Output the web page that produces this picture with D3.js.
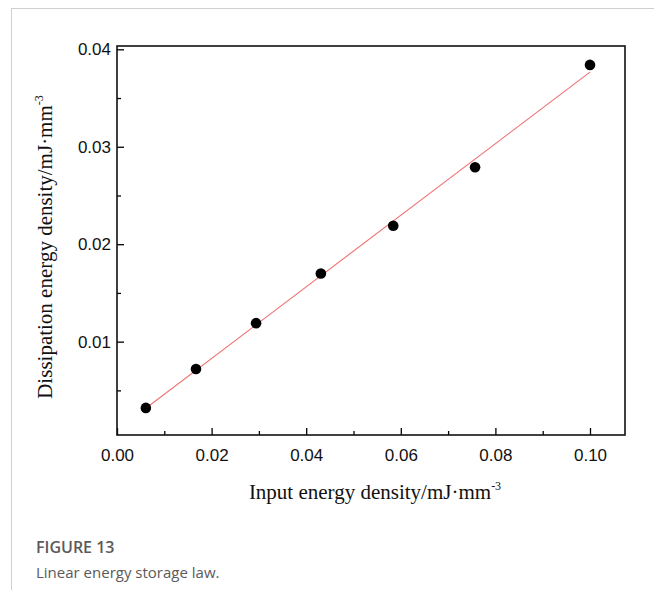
<!DOCTYPE html>
<html>
<head>
<meta charset="utf-8">
<script src="https://cdn.jsdelivr.net/npm/d3@7"></script>
<style>
  html, body { margin: 0; padding: 0; background: #fff; }
  svg { display: block; }
</style>
</head>
<body>
<svg id="chart" width="654" height="590"></svg>
<script>
// Data
const inputEnergy = [0.0061, 0.0167, 0.0294, 0.0431, 0.0584, 0.0757, 0.1000];
const dissipationEnergy = [0.0032, 0.0072, 0.0119, 0.0170, 0.0219, 0.0279, 0.0384];
const xTicks = [0.00, 0.02, 0.04, 0.06, 0.08, 0.10];
const xMinorTicks = [0.01, 0.03, 0.05, 0.07, 0.09];
const yTicks = [0.01, 0.02, 0.03, 0.04];
const yMinorTicks = [0.005, 0.015, 0.025, 0.035];

const svg = d3.select("#chart");
const W = 654, H = 590;

// page frame lines
svg.append("line").attr("x1", 11).attr("x2", W).attr("y1", 8.5).attr("y2", 8.5)
  .attr("stroke", "#cfcfcf").attr("stroke-width", 1);
svg.append("line").attr("x1", 11.5).attr("x2", 11.5).attr("y1", 8).attr("y2", H)
  .attr("stroke", "#cfcfcf").attr("stroke-width", 1);

const plot = { left: 117, right: 625, top: 46, bottom: 435 };

const x = d3.scaleLinear().domain([0, 0.1074]).range([plot.left, plot.right]);
const y = d3.scaleLinear().domain([0.00042, 0.04034]).range([plot.bottom, plot.top]);

const g = svg.append("g");

// Axes (ticks inward)
const xAxis = d3.axisBottom(x).tickValues(xTicks).tickFormat(d3.format(".2f"))
  .tickSizeInner(-7).tickSizeOuter(0).tickPadding(14);
const xAxisMinor = d3.axisBottom(x).tickValues(xMinorTicks).tickFormat("")
  .tickSizeInner(-4).tickSizeOuter(0);
const yAxis = d3.axisLeft(y).tickValues(yTicks).tickFormat(d3.format(".2f"))
  .tickSizeInner(-7).tickSizeOuter(0).tickPadding(6);
const yAxisMinor = d3.axisLeft(y).tickValues(yMinorTicks).tickFormat("")
  .tickSizeInner(-4).tickSizeOuter(0);

function styleAxis(sel) {
  sel.attr("font-size", null).attr("font-family", null);
  sel.select(".domain").remove();
  sel.selectAll(".tick line").attr("stroke", "#000").attr("stroke-width", 1.3);
  sel.selectAll(".tick text").attr("fill", "#111")
    .attr("font-family", "'Liberation Sans', Arial, sans-serif").attr("font-size", 17);
}

g.append("g").attr("transform", `translate(0,${plot.bottom})`).call(xAxis).call(styleAxis);
g.append("g").attr("transform", `translate(0,${plot.bottom})`).call(xAxisMinor).call(styleAxis);
g.append("g").attr("transform", `translate(${plot.left},0)`).call(yAxis).call(styleAxis);
g.append("g").attr("transform", `translate(${plot.left},0)`).call(yAxisMinor).call(styleAxis);

// frame
g.append("rect").attr("x", plot.left).attr("y", plot.top)
  .attr("width", plot.right - plot.left).attr("height", plot.bottom - plot.top)
  .attr("fill", "none").attr("stroke", "#111").attr("stroke-width", 1.6);

// Least-squares fit line across the data range
const n = inputEnergy.length;
const mx = d3.mean(inputEnergy), my = d3.mean(dissipationEnergy);
let sxy = 0, sxx = 0;
for (let i = 0; i < n; i++) {
  sxy += (inputEnergy[i] - mx) * (dissipationEnergy[i] - my);
  sxx += (inputEnergy[i] - mx) ** 2;
}
const slope = sxy / sxx, intercept = my - slope * mx;
const xExt = d3.extent(inputEnergy);
g.append("line")
  .attr("x1", x(xExt[0])).attr("y1", y(intercept + slope * xExt[0]))
  .attr("x2", x(xExt[1])).attr("y2", y(intercept + slope * xExt[1]))
  .attr("stroke", "#f07070").attr("stroke-width", 1.1);

// points
g.selectAll("circle.pt").data(inputEnergy.map((v, i) => [v, dissipationEnergy[i]]))
  .join("circle").attr("class", "pt")
  .attr("cx", d => x(d[0])).attr("cy", d => y(d[1])).attr("r", 5.3)
  .attr("fill", "#000");

// Axis titles
const serif = "'Liberation Serif', 'Times New Roman', serif";
const xt = svg.append("text").attr("x", 375).attr("y", 499)
  .attr("text-anchor", "middle").style("font-family", serif).style("font-size", "21px")
  .attr("fill", "#111");
xt.append("tspan").text("Input energy density/mJ·mm");
xt.append("tspan").attr("dy", -9).style("font-size", "12px").text("-3");

const yt = svg.append("text").attr("transform", "translate(52,247) rotate(-90)")
  .attr("text-anchor", "middle").style("font-family", serif).style("font-size", "21px")
  .attr("fill", "#111");
yt.append("tspan").text("Dissipation energy density/mJ·mm");
yt.append("tspan").attr("dy", -9).style("font-size", "12px").text("-3");

// Caption
svg.append("text").attr("x", 36).attr("y", 553)
  .style("font-family", "'Open Sans', 'Noto Sans', sans-serif").style("font-size", "16px")
  .style("font-weight", "600").attr("fill", "#5a5a5a").text("FIGURE 13");
svg.append("text").attr("x", 36).attr("y", 578)
  .style("font-family", "'Open Sans', 'Noto Sans', sans-serif").style("font-size", "15px")
  .attr("fill", "#5a5a5a").text("Linear energy storage law.");
</script>
</body>
</html>
